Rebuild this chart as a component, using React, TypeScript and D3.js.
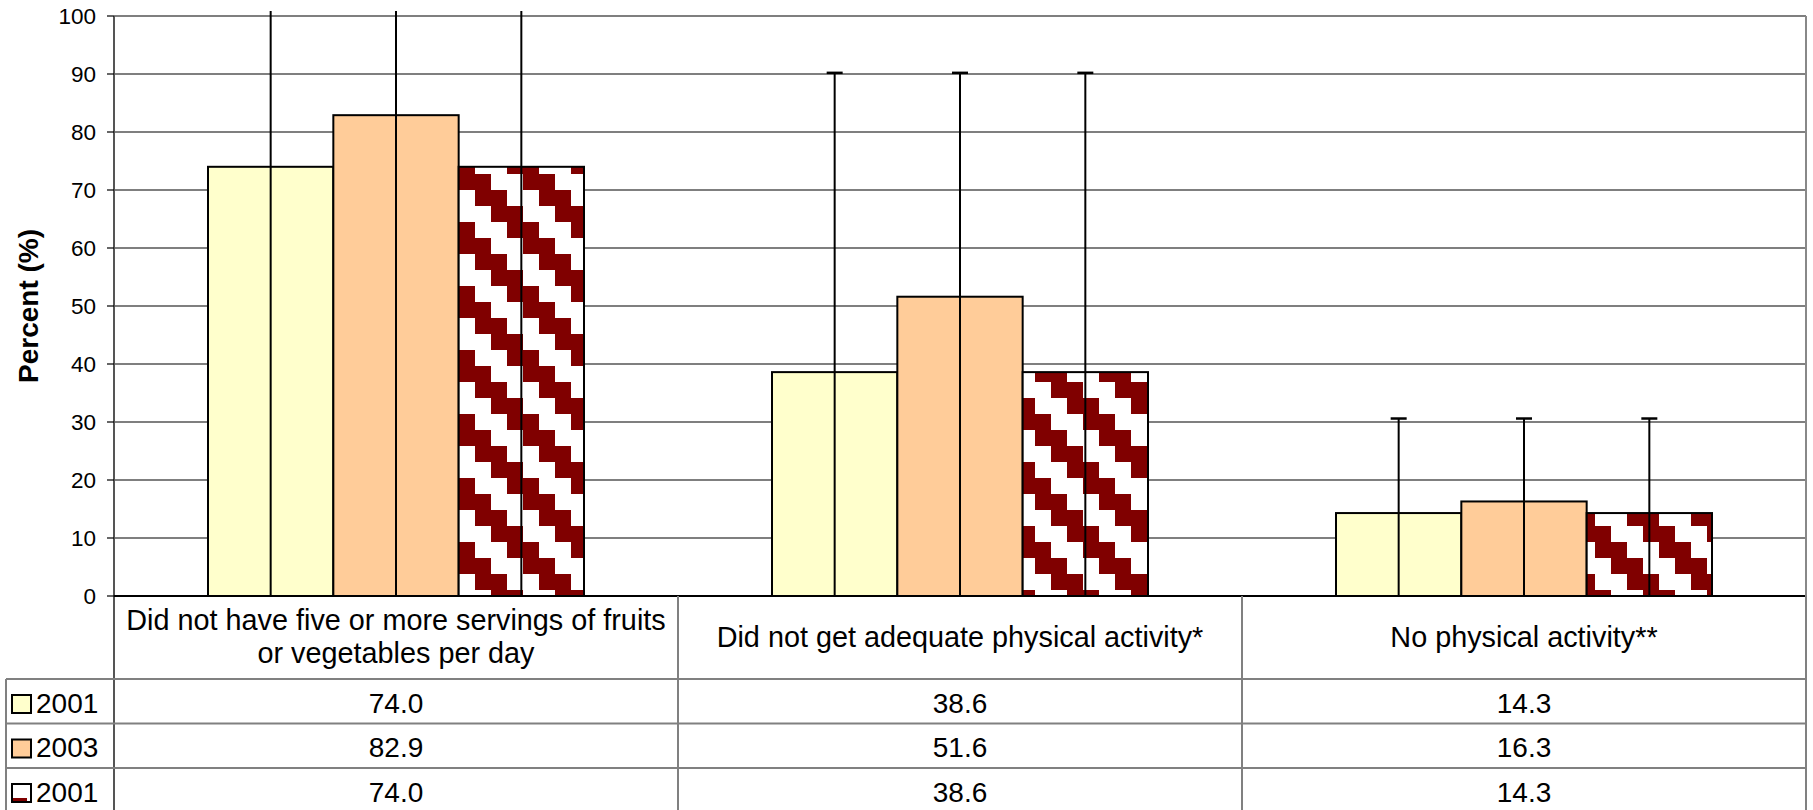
import React from "react";
import * as d3 from "d3";

const categories = [
  "Did not have five or more servings of fruits\nor vegetables per day",
  "Did not get adequate physical activity*",
  "No physical activity**",
];
const seriesNames = ["2001", "2003", "2001"];
const values2001 = [74.0, 38.6, 14.3];
const values2003 = [82.9, 51.6, 16.3];
const values2001b = [74.0, 38.6, 14.3];
const errorUpper = [156.9, 90.2, 30.6];
const errorLower = [0, 0, 0];
const yTicks = [0, 10, 20, 30, 40, 50, 60, 70, 80, 90, 100];

const W = 1813;
const H = 810;
const FONT = "'Liberation Sans', Arial, Helvetica, sans-serif";

export default function App() {
  const seriesValues = [values2001, values2003, values2001b];
  const left = 114;
  const right = 1806;
  const top = 16;
  const bottom = 596;
  const tableLeft = 6;
  const catRowBottom = 679;
  const rowH = 44.5;

  const x = d3.scaleBand<string>().domain(categories).range([left, right]).paddingInner(0).paddingOuter(0);
  const bw = x.bandwidth();
  const barW = bw / 4.5;
  const groupOff = (bw - 3 * barW) / 2;
  const y = d3.scaleLinear().domain([0, 100]).range([bottom, top]);
  const clipTop = 11;

  const fills = ["#FFFFCC", "#FFCC99", "url(#zig)"];
  const catFont = 28.8;
  const tableFont = 28;
  const axisFont = 22.5;

  const rowTops = seriesNames.map((_, i) => catRowBottom + i * rowH);
  const tableBottom = catRowBottom + seriesNames.length * rowH;

  return (
    <svg width={W} height={H} style={{ position: "absolute", left: 0, top: 0, background: "#fff" }} fontFamily={FONT}>
      <defs>
        <pattern id="zig" patternUnits="userSpaceOnUse" x={11} y={30} width={64} height={64}>
          <rect x={0} y={0} width={64} height={64} fill="#fff" />
          <rect x={0} y={0} width={16} height={32} fill="#800000" />
          <rect x={16} y={16} width={16} height={32} fill="#800000" />
          <rect x={32} y={32} width={16} height={32} fill="#800000" />
          <rect x={48} y={48} width={16} height={16} fill="#800000" />
          <rect x={48} y={0} width={16} height={16} fill="#800000" />
        </pattern>
      </defs>
      <rect x={0} y={0} width={W} height={H} fill="#fff" />

      {/* gridlines */}
      {yTicks.filter((t) => t > 0).map((t) => (
        <line key={"g" + t} x1={left} x2={right} y1={y(t)} y2={y(t)} stroke="#000" strokeWidth={1.2} />
      ))}

      {/* bars */}
      {categories.map((c, ci) =>
        seriesValues.map((vals, si) => {
          const bx = (x(c) as number) + groupOff + si * barW;
          return (
            <rect
              key={"b" + ci + "-" + si}
              x={bx}
              y={y(vals[ci])}
              width={barW}
              height={y(0) - y(vals[ci])}
              fill={fills[si]}
              stroke="#000"
              strokeWidth={2}
            />
          );
        })
      )}

      {/* error bars */}
      {categories.map((c, ci) =>
        seriesValues.map((vals, si) => {
          const cx = (x(c) as number) + groupOff + si * barW + barW / 2;
          const yt = Math.max(y(errorUpper[ci]), clipTop);
          const yb = Math.min(y(Math.max(errorLower[ci], 0)), bottom);
          return (
            <g key={"e" + ci + "-" + si}>
              <line x1={cx} x2={cx} y1={yb} y2={yt} stroke="#000" strokeWidth={2} />
              {errorUpper[ci] <= 100 && (
                <line x1={cx - 8} x2={cx + 8} y1={y(errorUpper[ci])} y2={y(errorUpper[ci])} stroke="#000" strokeWidth={2.5} />
              )}
            </g>
          );
        })
      )}

      {/* axis */}
      <line x1={left} x2={left} y1={top} y2={tableBottom} stroke="#555" strokeWidth={2} />
      <line x1={left} x2={right} y1={bottom} y2={bottom} stroke="#000" strokeWidth={2} />
      <line x1={right} x2={right} y1={top} y2={tableBottom} stroke="#888" strokeWidth={2} />
      {yTicks.map((t) => (
        <g key={"t" + t}>
          <line x1={left - 7} x2={left} y1={y(t)} y2={y(t)} stroke="#000" strokeWidth={1.2} />
          <text x={96} y={y(t)} dy="0.35em" textAnchor="end" fontSize={axisFont} fill="#000">
            {t}
          </text>
        </g>
      ))}
      <text
        transform={`translate(37.5, ${(top + bottom) / 2}) rotate(-90)`}
        textAnchor="middle"
        fontSize={28}
        fontWeight="bold"
        fill="#000"
      >
        Percent (%)
      </text>

      {/* data table */}
      {categories.map((c, ci) => (
        <line
          key={"v" + ci}
          x1={(x(c) as number) + bw}
          x2={(x(c) as number) + bw}
          y1={bottom}
          y2={tableBottom}
          stroke="#808080"
          strokeWidth={2}
        />
      ))}
      <line x1={tableLeft} x2={tableLeft} y1={catRowBottom} y2={tableBottom} stroke="#808080" strokeWidth={2} />
      {rowTops.map((ry, i) => (
        <line key={"h" + i} x1={tableLeft} x2={right} y1={ry} y2={ry} stroke="#808080" strokeWidth={2} />
      ))}

      {categories.map((c, ci) => {
        const lines = c.split("\n");
        const cx = (x(c) as number) + bw / 2;
        const mid = (bottom + catRowBottom) / 2;
        const lh = 33;
        const capHalf = (catFont * 0.716) / 2;
        return (
          <text key={"cl" + ci} textAnchor="middle" fontSize={catFont} fill="#000">
            {lines.map((ln, li) => (
              <tspan key={li} x={cx} y={mid - ((lines.length - 1) * lh) / 2 + li * lh + capHalf - 1}>
                {ln}
              </tspan>
            ))}
          </text>
        );
      })}

      {seriesNames.map((name, si) => (
        <g key={"row" + si}>
          <rect x={12} y={rowTops[si] + 16} width={19} height={18} fill={fills[si]} stroke="#000" strokeWidth={2} />
          <text x={36} y={rowTops[si] + 33.5} fontSize={tableFont} fill="#000">
            {name}
          </text>
          {categories.map((c, ci) => (
            <text
              key={"val" + ci}
              x={(x(c) as number) + bw / 2}
              y={rowTops[si] + 33.5}
              textAnchor="middle"
              fontSize={tableFont}
              fill="#000"
            >
              {d3.format(".1f")(seriesValues[si][ci])}
            </text>
          ))}
        </g>
      ))}
    </svg>
  );
}
